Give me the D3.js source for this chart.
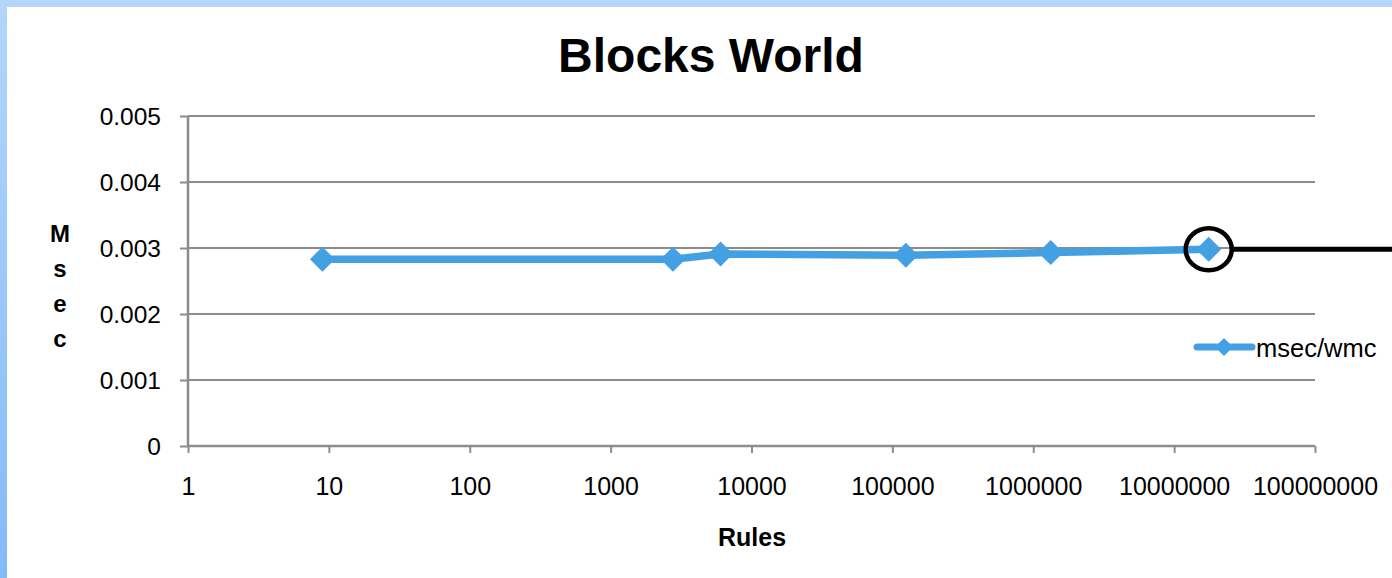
<!DOCTYPE html>
<html>
<head>
<meta charset="utf-8">
<script src="https://cdn.jsdelivr.net/npm/d3@7"></script>
<style>
  html, body { margin: 0; padding: 0; background: #fff; }
  svg { display: block; }
  text { font-family: "Liberation Sans", Arial, sans-serif; fill: #000; }
</style>
</head>
<body>
<svg id="chart" width="1392" height="578"></svg>
<script>
// Rule counts (x) and milliseconds per working-memory change (y)
const rules = [9, 2770, 6030, 124700, 1330000, 17600000];
const msecPerWmc = [0.00283, 0.00283, 0.00291, 0.00289, 0.00293, 0.00298];
const seriesName = "msec/wmc";

const xTickValues = [1, 10, 100, 1000, 10000, 100000, 1000000, 10000000, 100000000];
const xTickLabels = ["1", "10", "100", "1000", "10000", "100000", "1000000", "10000000", "100000000"];
const yTickValues = [0, 0.001, 0.002, 0.003, 0.004, 0.005];
const yTickLabels = ["0", "0.001", "0.002", "0.003", "0.004", "0.005"];

const W = 1392, H = 578;
const plot = { left: 188, right: 1315, top: 116, bottom: 446 };
const blue = "#42a0e3";
const axisGray = "#8c8c8c";

const svg = d3.select("#chart");

// slide frame: light blue bands along the top and left edges
const defs = svg.append("defs");
const grad = defs.append("linearGradient").attr("id", "edge").attr("x1", 0).attr("y1", 0).attr("x2", 0).attr("y2", 1);
grad.append("stop").attr("offset", "0%").attr("stop-color", "#b3d6f9");
grad.append("stop").attr("offset", "100%").attr("stop-color", "#84baf8");
svg.append("rect").attr("x", 0).attr("y", 0).attr("width", W).attr("height", 7).attr("fill", "#b3d6f9");
svg.append("rect").attr("x", 0).attr("y", 0).attr("width", 7).attr("height", H).attr("fill", "url(#edge)");

const x = d3.scaleLog().domain([1, 1e8]).range([plot.left, plot.right]);
const y = d3.scaleLinear().domain([0, 0.005]).range([plot.bottom, plot.top]);

// horizontal gridlines
svg.append("g").selectAll("line").data(yTickValues.filter(v => v > 0)).join("line")
  .attr("x1", plot.left).attr("x2", plot.right)
  .attr("y1", d => y(d)).attr("y2", d => y(d))
  .attr("stroke", axisGray).attr("stroke-width", 2);

// y axis
const yAxis = d3.axisLeft(y).tickValues(yTickValues)
  .tickFormat((d, i) => yTickLabels[i]).tickSize(8).tickPadding(19);
const gy = svg.append("g").attr("transform", `translate(${plot.left},0)`).call(yAxis);
gy.select(".domain").attr("stroke", axisGray).attr("stroke-width", 2.5).attr("d", `M0,${plot.top}V${plot.bottom}`);
gy.selectAll(".tick line").attr("stroke", axisGray).attr("stroke-width", 2);
gy.selectAll(".tick text").attr("font-size", 24.5).attr("font-family", "Liberation Sans, Arial, sans-serif")
  .attr("dy", "0.33em").attr("fill", "#000");

// x axis
const xAxis = d3.axisBottom(x).tickValues(xTickValues)
  .tickFormat((d, i) => xTickLabels[i]).tickSize(7).tickPadding(24);
const gx = svg.append("g").attr("transform", `translate(0,${plot.bottom})`).call(xAxis);
gx.select(".domain").attr("stroke", axisGray).attr("stroke-width", 2.5).attr("d", `M${plot.left},0H${plot.right}`);
gx.selectAll(".tick line").attr("stroke", axisGray).attr("stroke-width", 2);
gx.selectAll(".tick text").attr("font-size", 25).attr("font-family", "Liberation Sans, Arial, sans-serif")
  .attr("fill", "#000");

// series line and diamond markers
const pts = rules.map((r, i) => [r, msecPerWmc[i]]);
const line = d3.line().x(d => x(d[0])).y(d => y(d[1]));
svg.append("path").datum(pts).attr("d", line)
  .attr("fill", "none").attr("stroke", blue).attr("stroke-width", 7.5)
  .attr("stroke-linejoin", "round");

const diamond = (cx, cy, r) => `M${cx},${cy - r}L${cx + r},${cy}L${cx},${cy + r}L${cx - r},${cy}Z`;
svg.append("g").selectAll("path").data(pts).join("path")
  .attr("d", d => diamond(x(d[0]), y(d[1]), 12.5))
  .attr("fill", blue);

// highlight ring on the largest rule set, with a callout line to the right edge
const last = pts[pts.length - 1];
const cx = x(last[0]), cy = y(last[1]);
svg.append("ellipse").attr("cx", cx).attr("cy", cy).attr("rx", 23).attr("ry", 21)
  .attr("fill", "none").attr("stroke", "#000").attr("stroke-width", 4.5);
svg.append("line").attr("x1", cx + 23).attr("x2", W).attr("y1", cy).attr("y2", cy)
  .attr("stroke", "#000").attr("stroke-width", 5);

// legend
const lg = svg.append("g").attr("transform", "translate(1197,347)");
lg.append("line").attr("x1", 0).attr("x2", 55).attr("y1", 0).attr("y2", 0)
  .attr("stroke", blue).attr("stroke-width", 7).attr("stroke-linecap", "round");
lg.append("path").attr("d", diamond(27, 0, 9)).attr("fill", blue);
lg.append("text").attr("x", 59).attr("y", 9.5).attr("font-size", 25.5).text(seriesName);

// title
svg.append("text").attr("x", 711).attr("y", 72).attr("text-anchor", "middle")
  .attr("font-size", 48).attr("font-weight", "bold").text("Blocks World");

// axis titles
svg.append("text").attr("x", 752).attr("y", 546).attr("text-anchor", "middle")
  .attr("font-size", 25).attr("font-weight", "bold").text("Rules");

const yTitle = svg.append("text").attr("text-anchor", "middle")
  .attr("font-size", 24).attr("font-weight", "bold");
"Msec".split("").forEach((ch, i) => {
  yTitle.append("tspan").attr("x", 60).attr("y", 242 + i * 35).text(ch);
});
</script>
</body>
</html>
